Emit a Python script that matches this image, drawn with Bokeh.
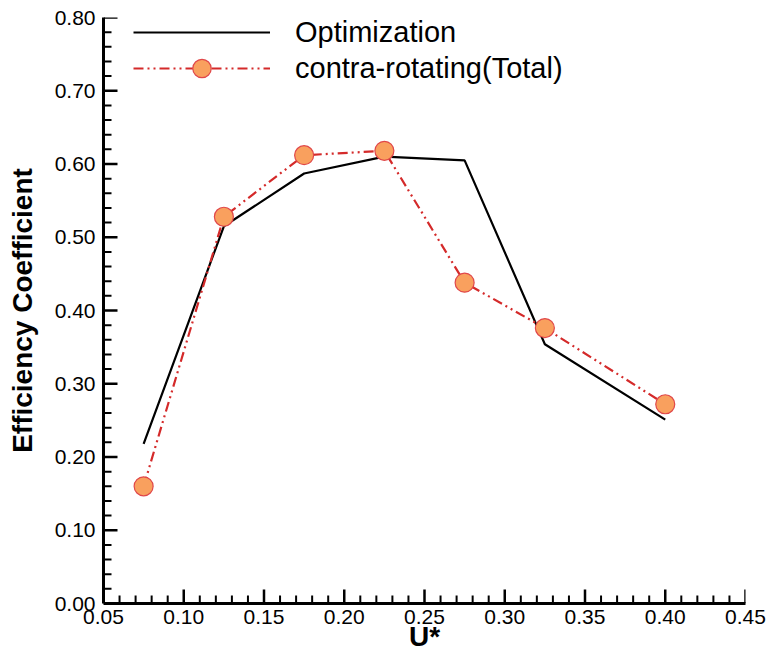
from bokeh.plotting import figure
from bokeh.models import (Range1d, FixedTicker, NumeralTickFormatter, Legend, LegendItem,
                          Arrow, ColumnDataSource)
from bokeh.embed import file_html
from bokeh.resources import INLINE

u_star = [0.075, 0.125, 0.175, 0.225, 0.275, 0.325, 0.40]
optimization = [0.218, 0.515, 0.587, 0.610, 0.605, 0.354, 0.251]
contra_total = [0.160, 0.528, 0.612, 0.618, 0.438, 0.376, 0.272]

x_ticks = [0.05, 0.10, 0.15, 0.20, 0.25, 0.30, 0.35, 0.40, 0.45]
y_ticks = [0.0, 0.1, 0.2, 0.3, 0.4, 0.5, 0.6, 0.7, 0.8]
x_minor = [round(0.05 + 0.01 * i, 2) for i in range(41)]
y_minor = [round(0.02 * i, 2) for i in range(41)]

FONT = "Liberation Sans"
W, H = 771, 655
BL, BR, BT, BB = 103, 26, 17, 52
X0, X1, Y0, Y1 = 0.05, 0.45, 0.0, 0.80

p = figure(width=W, height=H, output_backend="svg", toolbar_location=None,
           x_range=Range1d(X0, X1), y_range=Range1d(Y0, Y1),
           min_border_left=BL, min_border_right=BR, min_border_top=BT, min_border_bottom=BB)
p.outline_line_color = None
p.grid.visible = False

# inward ticks built from the tick lists (pixel length converted to data units), as annotations
fw, fh = W - BL - BR, H - BT - BB
dx_px = (X1 - X0) / fw
dy_px = (Y1 - Y0) / fh
xt_minor = [t for t in x_minor if all(abs(t - m) > 1e-9 for m in x_ticks)]
yt_minor = [t for t in y_minor if all(abs(t - m) > 1e-9 for m in y_ticks)]


def tick_marks(x0, y0, x1, y1, width):
    src = ColumnDataSource(dict(x0=x0, y0=y0, x1=x1, y1=y1))
    p.add_layout(Arrow(end=None, start=None, x_start="x0", y_start="y0", x_end="x1", y_end="y1",
                       source=src, line_color="black", line_width=width))


tick_marks(x_ticks, [Y0] * len(x_ticks), x_ticks, [Y0 + 14 * dy_px] * len(x_ticks), 2.5)
tick_marks(xt_minor, [Y0] * len(xt_minor), xt_minor, [Y0 + 8 * dy_px] * len(xt_minor), 2)
tick_marks([X0] * len(y_ticks), y_ticks, [X0 + 14 * dx_px] * len(y_ticks), y_ticks, 2.5)
tick_marks([X0] * len(yt_minor), yt_minor, [X0 + 8 * dx_px] * len(yt_minor), yt_minor, 2)

r1 = p.line(u_star, optimization, line_color="black", line_width=2.2)
r2 = p.line(u_star, contra_total, line_color="#d42a2a", line_width=2.2, line_dash="10 4 2 4 2 4")
r3 = p.scatter(u_star, contra_total, size=19, fill_color="#f9a05e", line_color="#e0474a", line_width=1.2)

for ax in (p.xaxis[0], p.yaxis[0]):
    ax.axis_line_width = 3
    ax.major_tick_in = 0
    ax.major_tick_out = 0
    ax.minor_tick_in = 0
    ax.minor_tick_out = 0
    ax.major_label_text_font = FONT
    ax.major_label_text_font_size = "21px"
    ax.major_label_text_color = "black"
    ax.axis_label_text_font = FONT
    ax.axis_label_text_font_style = "bold"
    ax.axis_label_text_font_size = "28px"
    ax.axis_label_text_color = "black"
    ax.formatter = NumeralTickFormatter(format="0.00")

p.xaxis[0].ticker = FixedTicker(ticks=x_ticks)
p.yaxis[0].ticker = FixedTicker(ticks=y_ticks)
p.xaxis[0].axis_label = "U*"
p.yaxis[0].axis_label = "Efficiency Coefficient"
p.xaxis[0].major_label_standoff = 6
p.xaxis[0].axis_label_standoff = -6
p.yaxis[0].major_label_standoff = 8
p.yaxis[0].axis_label_standoff = 14

GH = 46
legends = [
    Legend(items=[LegendItem(label="Optimization", renderers=[r1])], location=(30, fh - GH + 8)),
    Legend(items=[LegendItem(label="contra-rotating(Total)", renderers=[r2, r3])], location=(30, fh - GH - 28)),
]
for legend in legends:
    legend.border_line_color = None
    legend.background_fill_alpha = 0
    legend.padding = 0
    legend.margin = 0
    legend.glyph_width = 137
    legend.glyph_height = GH
    legend.spacing = 0
    legend.label_standoff = 25
    legend.label_text_font = FONT
    legend.label_text_font_size = "29px"
    legend.label_text_color = "black"
    p.add_layout(legend, "center")

open("out.html", "w").write(file_html(p, INLINE))
